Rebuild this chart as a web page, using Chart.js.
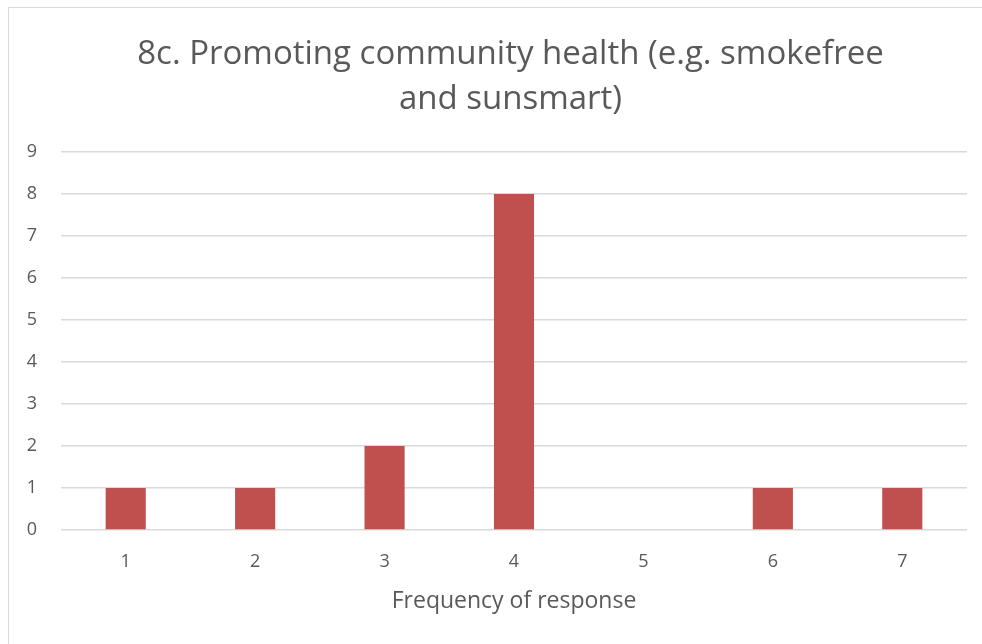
<!DOCTYPE html>
<html>
<head>
<meta charset="utf-8">
<script src="https://cdn.jsdelivr.net/npm/chart.js@4/dist/chart.umd.min.js"></script>
<style>
  html, body { margin: 0; padding: 0; background: #fff; }
  #frame { position: absolute; left: 8px; top: 7px; width: 1000px; height: 700px;
           border-left: 1px solid #d9d9d9; border-top: 1px solid #d9d9d9; }
  #wrap { position: absolute; left: 0; top: 0; width: 982px; height: 644px; }
</style>
</head>
<body>
<div id="frame"></div>
<div id="wrap"><canvas id="grafico"></canvas></div>
<script>
// Dados do gráfico
const categorias = ['1', '2', '3', '4', '5', '6', '7'];
const frequencias = [1, 1, 2, 8, 0, 1, 1];
const tituloLinhas = ['8c. Promoting community health (e.g. smokefree', 'and sunsmart)'];
const tituloEixoX = 'Frequency of response';

const corTexto = '#595959';
const corGrade = '#d9d9d9';
const fonte = "'Open Sans', sans-serif";

// O título do original fica um pouco à direita do centro do gráfico
const deslocaTitulo = {
  id: 'deslocaTitulo',
  afterLayout(chart) {
    if (chart.titleBlock) {
      chart.titleBlock.left += 27;
      chart.titleBlock.right += 27;
    }
  }
};

const ctx = document.getElementById('grafico').getContext('2d');
new Chart(ctx, {
  type: 'bar',
  data: {
    labels: categorias,
    datasets: [{
      label: 'Frequência',
      data: frequencias,
      backgroundColor: '#c0504d',
      borderWidth: 0,
      categoryPercentage: 1,
      barPercentage: 0.31
    }]
  },
  options: {
    responsive: true,
    maintainAspectRatio: false,
    animation: false,
    layout: { padding: { left: 0, right: 15, top: 0, bottom: 29 } },
    plugins: {
      legend: { display: false },
      tooltip: { enabled: false },
      title: {
        display: true,
        text: tituloLinhas,
        color: corTexto,
        font: { family: fonte, size: 33, weight: 'normal', lineHeight: 1.364 },
        padding: { top: 32, bottom: 30 }
      }
    },
    scales: {
      x: {
        grid: { display: false, drawTicks: false },
        border: { display: false },
        ticks: { color: corTexto, font: { family: fonte, size: 18 }, padding: 21 },
        title: {
          display: true,
          text: tituloEixoX,
          color: corTexto,
          font: { family: fonte, size: 23 },
          padding: { top: 10, bottom: 0 }
        },
        afterFit: function(scale) { scale.height = 85; }
      },
      y: {
        min: 0,
        max: 9,
        grid: { color: corGrade, lineWidth: 1.5, drawTicks: false },
        border: { display: false },
        ticks: { stepSize: 1, color: corTexto, font: { family: fonte, size: 18 }, padding: 24 },
        afterFit: function(scale) { scale.width = 61; }
      }
    }
  },
  plugins: [deslocaTitulo]
});
</script>
</body>
</html>
